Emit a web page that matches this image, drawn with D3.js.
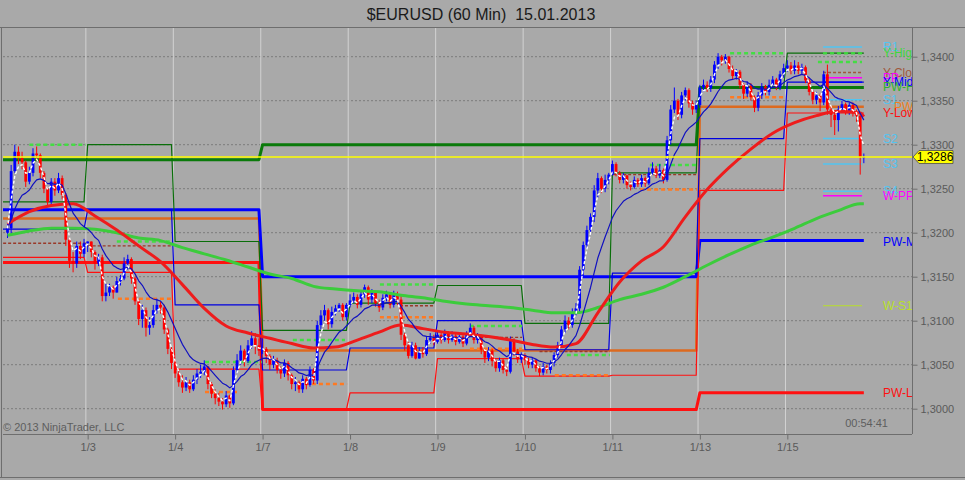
<!DOCTYPE html>
<html>
<head>
<meta charset="utf-8">
<script src="https://cdn.jsdelivr.net/npm/d3@7"></script>
<style>
body{margin:0;background:#a9a9a9;}
svg{display:block;font-family:Arial,"Liberation Sans",sans-serif;}
</style>
</head>
<body>
<script>
// prices are kept as pips above 1.3000
var pipBase = 1.3, pipSize = 0.0001;
var lastPrice = 1.3286;

// 60 min bars, 1/2 .. 1/15 (open of each bar = previous close)
var firstOpen = 200;
var closePips = [
 205,270,292,285,280,258,268,290,288,268,250,235,258,248,262,243,192,168,165,185,176,188,
 190,178,165,172,128,132,138,132,145,148,165,170,148,122,102,112,92,95,112,118,115,90,68,52,
 40,30,24,30,22,33,40,42,48,28,17,12,8,5,15,6,44,55,66,54,72,80,72,66,
 68,60,50,55,44,40,52,38,28,30,22,34,27,44,32,95,106,112,96,110,114,118,104,118,
 123,127,118,130,138,124,132,120,115,126,130,118,130,124,84,72,60,72,57,64,62,78,81,76,
 84,78,86,78,83,76,82,74,84,92,78,82,67,58,66,54,46,55,44,42,78,65,56,61,
 55,50,55,46,41,48,44,52,61,72,90,100,95,110,114,158,186,203,218,248,262,250,260,266,
 278,268,260,265,254,252,260,255,262,256,268,273,265,271,260,305,340,350,334,356,362,347,340,345,
 365,368,364,374,391,400,396,400,386,378,383,368,358,367,354,342,356,366,360,368,374,365,380,387,
 390,384,390,384,388,373,360,351,356,348,380,340,334,328,340,346,338,345,336,333,286,286
];
var highPips = [
 210,277,300,298,292,282,275,296,298,290,270,252,262,262,268,265,245,195,178,190,190,193,
 190,189,180,176,175,142,142,140,150,152,172,175,172,150,125,118,115,104,118,125,122,118,92,70,
 55,45,38,36,33,38,45,50,55,48,30,22,18,12,20,16,48,62,72,68,78,88,86,80,
 80,70,62,60,58,48,56,54,40,36,32,38,36,48,46,100,112,118,114,116,118,120,120,120,
 130,132,130,134,141,140,136,134,124,130,134,132,134,133,128,86,76,76,75,70,70,82,86,84,
 88,86,90,88,88,86,86,84,88,97,94,86,84,68,70,68,56,58,57,48,82,80,68,64,
 63,58,58,56,48,52,50,55,64,76,94,106,104,114,120,162,190,208,222,254,268,264,266,268,
 282,280,270,268,266,258,264,262,266,264,274,280,276,278,273,310,345,365,352,360,365,364,350,350,
 368,374,372,378,395,404,402,403,401,390,386,385,370,372,370,356,360,370,368,374,378,376,384,392,
 396,394,396,394,392,390,376,362,360,358,384,391,344,338,344,350,348,348,348,340,336,290
];
var lowPips = [
 194,198,268,278,272,252,255,264,282,262,245,230,232,242,245,238,185,160,155,160,170,172,
 178,172,158,162,122,122,128,125,133,140,146,158,142,118,95,92,82,84,92,108,108,85,62,45,
 35,25,18,20,18,20,28,35,38,22,12,5,3,-1,2,1,4,40,50,48,52,68,62,60,
 62,52,44,46,40,34,36,32,22,20,18,18,22,25,28,28,90,100,90,92,106,110,100,100,
 115,120,114,115,126,118,120,116,110,112,122,114,115,118,78,66,57,58,56,57,58,60,74,72,
 74,74,76,74,76,72,74,70,72,82,74,74,62,52,54,48,42,42,40,37,40,60,52,52,
 50,46,46,42,37,38,40,40,48,58,70,86,90,92,106,110,150,182,198,212,240,245,246,255,
 265,264,256,256,250,248,250,252,252,252,254,266,262,262,256,258,300,336,328,330,350,342,334,336,
 342,360,360,360,370,386,390,392,382,374,374,364,352,354,350,337,338,352,356,356,364,362,362,376,
 383,380,380,380,380,370,356,346,346,338,345,334,320,311,315,336,334,334,332,326,266,279
];

var dayLabels = ['1/3','1/4','1/7','1/8','1/9','1/10','1/11','1/13','1/15'];
var dayStartBars = [22,46,70,94,118,142,166,190,214];
var yTicks = [1.3000,1.3050,1.3100,1.3150,1.3200,1.3250,1.3300,1.3350,1.3400];

// prior day high / mid / low, one value per day (1/2 first)
var yHighPips = [235,300,190,89,120,140,97,268,365,404];
var yMidPips  = [204,226,118,44,69,100,67,154,307,371];
var yLowPips  = [172,155,45,-1,18,57,37,38,248,336];

// prior week levels, weeks start at bars 0, 70, 190
var weekStartBars = [0,70,190];
var pwHighPips  = [283,300,365];
var pwMidPips   = [226,150,191];
var pwLowPips   = [166,-1,18];
var pwClosePips = [216,66,343];

// long moving averages read every 6 bars
var maBars = [0,6,12,18,24,30,36,42,48,54,60,66,72,78,84,90,96,102,108,114,120,126,132,138,144,150,156,162,168,174,180,186,192,198,204,210,216,222,228,234,235];
var redMaPips   = [210,224,231,233,219,203,185,167,141,114,94,86,80,74,69,70,78,87,95,91,87,85,82,78,73,70,74,109,144,168,184,218,249,274,295,313,325,333,338,336,332];
var greenMaPips = [197,202,205,205,204,200,194,191,183,176,169,161,153,148,139,136,134,133,129,126,122,119,117,115,112,109,109,115,124,130,138,150,163,175,186,195,205,216,225,233,233];

// intraday dashed levels: [fromBar, toBar, pips]
var greenDash = [[6,21.5,300],[30,45.1,190],[54.2,69.8,53],[78.3,92.6,78],[102.2,117.3,141],[126.9,141.2,94],[153.5,165.3,61],[176.3,189.2,277],[198.3,213.4,404],[222.4,234.5,394]];
var orangeDash = [[30.3,45.1,125],[54.2,63.8,19],[79.7,93.2,28],[102.2,117.3,104],[126.9,141.2,68],[150.2,165.3,38],[173.6,189.2,249],[198.3,213.4,354]];
var brownDash = [[-1.2,21.5,188],[22,45.1,185],[107.7,117.3,117],[129.7,141.2,81],[146,165.3,65],[166.2,189.2,266]];

// today's pivot table on the right
var pivotNames = ['R1','Y-High','Y-Close','PP','Y-Mid','PW-H','S1','PW-C','Y-Low','S2','S3','S4','W-PP','PW-M','W-S1','PW-L'];
var pivotPips  = [411,404,382,376,371,366,351,343,336,307,278,247,242,190,117,18];
var pivotFrom = 223.8, pivotTo = 234.5;

// ---- styles ----
var pivotStyle = {
  'R1':{c:'#52c5f2',w:1.5},'Y-High':{c:'#3fd63f',w:2.5,d:'4,3'},'Y-Close':{c:'#a0583c',w:1.5,d:'3,2'},
  'PP':{c:'#ff00ff',w:1.5},'Y-Mid':{c:'#0000ff',w:1.5},'PW-H':{c:'#2fb32f'},
  'S1':{c:'#52c5f2',w:1.5},'PW-C':{c:'#f08020',dx:11},'Y-Low':{c:'#ff1010'},
  'S2':{c:'#52c5f2',w:1.5},'S3':{c:'#52c5f2',w:1.5},'S4':{c:'#52c5f2',w:1.5},
  'W-PP':{c:'#ff00ff',w:1.5},'PW-M':{c:'#0000ff'},'W-S1':{c:'#b8e02a',w:1.2},'PW-L':{c:'#ff1010'}
};

var W = 965, H = 480;
var plot = {l:3, t:27, r:912, b:434};
function pr(p){ return pipBase + p * pipSize; }

var x = d3.scaleLinear().domain([0,235]).range([7.5, 7.5 + 3.644*235]);
var y = d3.scaleLinear().domain([1.297125,1.343375]).range([plot.b, plot.t]);

var svg = d3.select("body").append("svg").attr("width",W).attr("height",H);
svg.append("rect").attr("width",W).attr("height",H).attr("fill","#a9a9a9");

svg.append("defs").append("clipPath").attr("id","plotclip")
  .append("rect").attr("x",plot.l).attr("y",plot.t).attr("width",plot.r-plot.l).attr("height",plot.b-plot.t);

// title
svg.append("text").attr("x",481).attr("y",20).attr("text-anchor","middle")
  .attr("font-size",16).attr("fill","#1a1a1a").style("white-space","pre")
  .text("$EURUSD (60 Min)  15.01.2013");

var chart = svg.append("g").attr("clip-path","url(#plotclip)");

// grid
chart.selectAll(".hgrid").data(yTicks).enter().append("line")
  .attr("x1",plot.l).attr("x2",plot.r).attr("y1",d=>y(d)).attr("y2",d=>y(d))
  .attr("stroke","#7c7c7c").attr("stroke-dasharray","2,2");
chart.selectAll(".vgrid").data(dayStartBars).enter().append("line")
  .attr("x1",d=>x(d-0.5)).attr("x2",d=>x(d-0.5)).attr("y1",plot.t).attr("y2",plot.b)
  .attr("stroke","#d2d2d2");

var line = d3.line().x(d=>x(d.i)).y(d=>y(pr(d.v)));

function stepSeries(starts, vals){
  var pts = [{i:-1.3, v:vals[0]}];
  for (var k=0;k<starts.length;k++){
    var end = k < starts.length-1 ? starts[k+1]-1 : 235;
    for (var i=starts[k]; i<=end; i++) pts.push({i:i, v:vals[k]});
  }
  return pts;
}
var dayStarts = [0].concat(dayStartBars);

function drawPath(pts, color, width, dash, curve){
  var l = curve ? d3.line().x(d=>x(d.i)).y(d=>y(pr(d.v))).curve(curve) : line;
  chart.append("path").attr("d",l(pts)).attr("fill","none")
    .attr("stroke",color).attr("stroke-width",width)
    .attr("stroke-dasharray",dash||null).attr("stroke-linejoin","round");
}

// weekly levels (thick)
drawPath(stepSeries(weekStartBars,pwClosePips),"#dd6a1f",2.5);
drawPath(stepSeries(weekStartBars,pwLowPips),"#ff1010",3);
drawPath(stepSeries(weekStartBars,pwMidPips),"#0000ff",3);
drawPath(stepSeries(weekStartBars,pwHighPips),"#0a7a0a",3);

// prior-day levels (thin)
drawPath(stepSeries(dayStarts,yHighPips),"#0a6e0a",1.2);
drawPath(stepSeries(dayStarts,yMidPips),"#0000e0",1.2);
drawPath(stepSeries(dayStarts,yLowPips),"#ff1010",1.2);

// intraday dashed levels
function dashSegs(list, color, width, dash){
  chart.selectAll(null).data(list).enter().append("line")
    .attr("x1",d=>x(d[0])).attr("x2",d=>x(d[1]))
    .attr("y1",d=>y(pr(d[2]))).attr("y2",d=>y(pr(d[2])))
    .attr("stroke",color).attr("stroke-width",width).attr("stroke-dasharray",dash);
}
dashSegs(brownDash,"#9a3a2a",1.4,"3,2");
dashSegs(greenDash,"#44dd44",2.5,"4,3");
dashSegs(orangeDash,"#ff7a22",2.5,"4,3");

// pivot segments on the right
pivotNames.forEach(function(n,k){
  var s = pivotStyle[n];
  if (!s.w) return;
  chart.append("line").attr("x1",x(pivotFrom)).attr("x2",x(pivotTo))
    .attr("y1",y(pr(pivotPips[k]))).attr("y2",y(pr(pivotPips[k])))
    .attr("stroke",s.c).attr("stroke-width",s.w).attr("stroke-dasharray",s.d||null);
});

// candles
var bars = closePips.map(function(c,i){
  var o = i===0 ? firstOpen : closePips[i-1];
  return {i:i, o:o, c:c, h:Math.max(highPips[i],o,c), l:Math.min(lowPips[i],o,c)};
});
var cg = chart.append("g");
cg.selectAll(".wick").data(bars).enter().append("line")
  .attr("x1",d=>x(d.i)).attr("x2",d=>x(d.i))
  .attr("y1",d=>y(pr(d.h))).attr("y2",d=>y(pr(d.l)))
  .attr("stroke",d=>d.c>=d.o?"#0000ff":"#ff0000").attr("stroke-width",1);
cg.selectAll(".body").data(bars).enter().append("rect")
  .attr("x",d=>x(d.i)-1.4).attr("width",2.8)
  .attr("y",d=>y(pr(Math.max(d.o,d.c))))
  .attr("height",d=>Math.max(1,y(pr(Math.min(d.o,d.c)))-y(pr(Math.max(d.o,d.c)))))
  .attr("fill",d=>d.c>=d.o?"#0000ff":"#ff0000");

// moving averages
function maPts(vals){ return maBars.map((b,k)=>({i:b, v:vals[k]})); }
drawPath(maPts(greenMaPips),"#3ccc3c",3,null,d3.curveMonotoneX);
drawPath(maPts(redMaPips),"#ee1c1c",3,null,d3.curveMonotoneX);

function ema(vals,n){
  var a = 2/(n+1), out = [], e = vals[0];
  vals.forEach(function(v,i){ e = i===0 ? v : e + a*(v-e); out.push({i:i, v:e}); });
  return out;
}
drawPath(ema(closePips,12),"#1010c0",1.2);
drawPath(ema(closePips,3),"#ffffff",1.4,"3,2");

// last price line
chart.append("line").attr("x1",plot.l).attr("x2",plot.r)
  .attr("y1",y(lastPrice)).attr("y2",y(lastPrice)).attr("stroke","#ffff00").attr("stroke-width",1.5);

// pivot labels (clipped at the plot edge like the original)
var lg = chart.append("g").attr("font-size",12);
pivotNames.forEach(function(n,k){
  var s = pivotStyle[n];
  lg.append("text").attr("x",883+(s.dx||0)).attr("y",y(pr(pivotPips[k]))+4)
    .attr("fill",s.c).text(n);
});

// frame
var fr = svg.append("g").attr("stroke","#6e6e6e").attr("fill","none");
fr.append("line").attr("x1",0).attr("x2",W).attr("y1",plot.t+0.5).attr("y2",plot.t+0.5);
fr.append("line").attr("x1",plot.r+0.5).attr("x2",plot.r+0.5).attr("y1",plot.t).attr("y2",plot.b);
fr.append("line").attr("x1",plot.l).attr("x2",plot.r).attr("y1",plot.b+0.5).attr("y2",plot.b+0.5);
fr.append("line").attr("x1",1.5).attr("x2",1.5).attr("y1",plot.t).attr("y2",H-2);
fr.append("line").attr("x1",0).attr("x2",W).attr("y1",H-2.5).attr("y2",H-2.5);

// axes
var yAxis = d3.axisRight(y).tickValues(yTicks).tickSize(5).tickPadding(3)
  .tickFormat(d=>d.toFixed(4).replace('.',','));
var ya = svg.append("g").attr("transform","translate("+(plot.r+0.5)+",0)").call(yAxis);
var xAxis = d3.axisBottom(x).tickValues(dayStartBars).tickSize(5).tickPadding(4)
  .tickFormat((d,k)=>dayLabels[k]);
var xa = svg.append("g").attr("transform","translate(0,"+(plot.b+0.5)+")").call(xAxis);
[ya,xa].forEach(function(a){
  a.select(".domain").remove();
  a.selectAll("line").attr("stroke","#6e6e6e");
  a.selectAll("text").attr("fill","#5a5a5a").attr("font-size",11).attr("font-family",null);
});

// price marker
var py = y(lastPrice);
svg.append("path")
  .attr("d","M"+(plot.r+1)+","+py+" L"+(plot.r+7)+","+(py-6.5)+" H953 V"+(py+6.5)+" H"+(plot.r+7)+" Z")
  .attr("fill","#ffff00").attr("stroke","#4a4a4a").attr("stroke-width",0.8);
svg.append("text").attr("x",935).attr("y",py+4.2).attr("text-anchor","middle")
  .attr("font-size",12).attr("fill","#000").text(String(lastPrice.toFixed(4)).replace('.',','));

// footer texts
svg.append("text").attr("x",3).attr("y",431).attr("font-size",11).attr("fill","#5e5e5e")
  .text("\u00a9 2013 NinjaTrader, LLC");
svg.append("text").attr("x",888).attr("y",427).attr("font-size",11).attr("fill","#5e5e5e")
  .attr("text-anchor","end").text("00:54:41");
</script>
</body>
</html>
